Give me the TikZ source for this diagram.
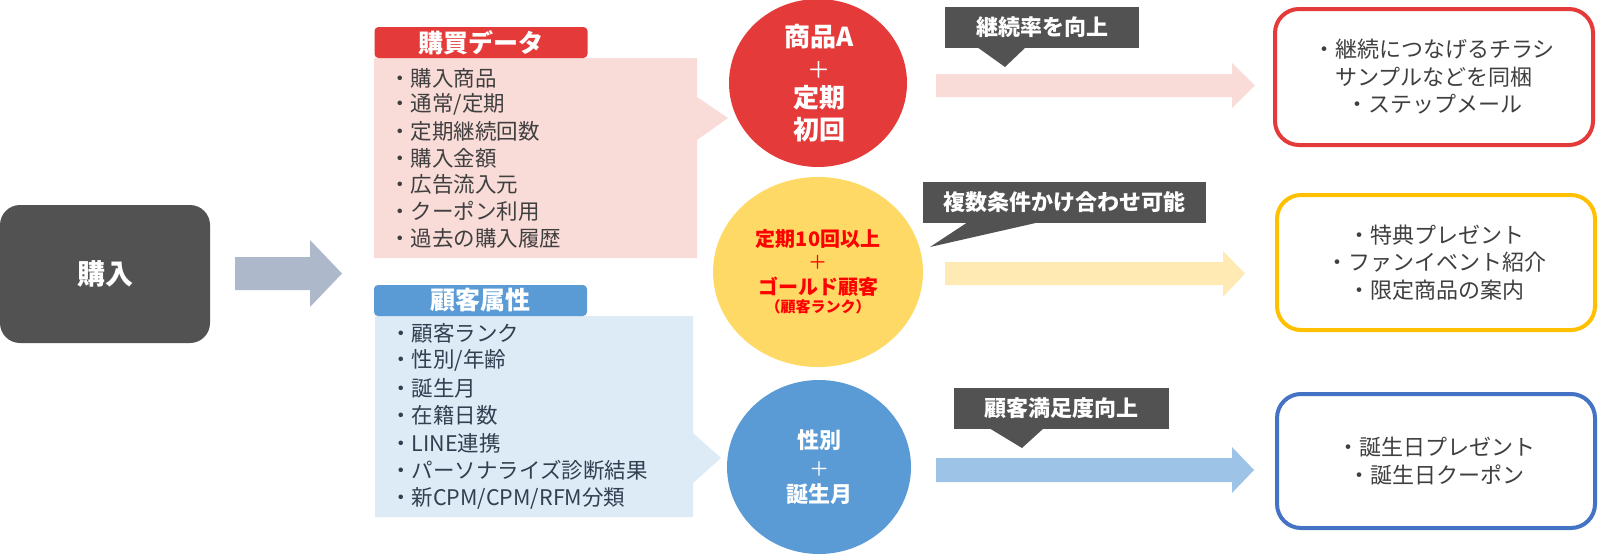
\documentclass[tikz,border=0pt]{standalone}
\usepackage{fontspec}
\setmainfont{Noto Sans CJK JP}
\usetikzlibrary{shapes.geometric}
\definecolor{dg}{HTML}{525252}
\definecolor{redc}{HTML}{E53A3A}
\definecolor{pinkc}{HTML}{F9DCD8}
\definecolor{lblue}{HTML}{DDEBF7}
\definecolor{bluec}{HTML}{5B9BD5}
\definecolor{yelc}{HTML}{FFD966}
\definecolor{yelarrow}{HTML}{FFEAB4}
\definecolor{bluearrow}{HTML}{9DC3E6}
\definecolor{grayarrow}{HTML}{ADB9CA}
\definecolor{yelborder}{HTML}{FFC000}
\definecolor{blueborder}{HTML}{4472C4}
\definecolor{txtgray}{HTML}{3F3F3F}
\definecolor{txtslate}{HTML}{333F50}
\definecolor{redtxt}{HTML}{FF0000}
\begin{document}
\begin{tikzpicture}[x=1pt,y=-1pt,
  header/.style={rounded corners=4pt, inner sep=0pt, minimum width=213pt, minimum height=31pt,
    text=white, font=\bfseries\fontsize{25}{28}\selectfont},
  listtext/.style={anchor=west, inner sep=0pt, font=\fontsize{21.5}{24}\selectfont},
  callout/.style={fill=dg, inner sep=0pt, minimum height=41pt, text=white,
    font=\bfseries\fontsize{22}{24}\selectfont},
  resultbox/.style={draw, line width=4pt, fill=white, rounded corners=24pt, minimum width=318pt,
    minimum height=136pt, inner sep=0pt, align=center, text=txtgray,
    font=\fontsize{22}{27.5}\selectfont},
  blob/.style={ellipse, inner sep=0pt},
  ctext/.style={inner sep=0pt, text=white, font=\bfseries\fontsize{26}{28}\selectfont},
  plus/.style={inner sep=0pt, font=\fontsize{23}{24}\selectfont}
]
\useasboundingbox (0,0) rectangle (1600,554);

% purchase box and arrow
\node[fill=dg, rounded corners=20pt, minimum width=210pt, minimum height=138pt, inner sep=0pt,
  text=white, font=\bfseries\fontsize{28}{30}\selectfont] (buy) at (105,274) {購入};
\fill[grayarrow] (235,257) -- (310,257) -- (310,240) -- (342,273.5) -- (310,307) -- (310,290) -- (235,290) -- cycle;

% data box 1
\fill[pinkc] (374,58) -- (697,58) -- (697,97) -- (728,118) -- (697,140) -- (697,258) -- (374,258) -- cycle;
\node[header, fill=redc] (h1) at (481,42.5) {購買データ};
\foreach \t [count=\i] in {購入商品,通常/定期,定期継続回数,購入金額,広告流入元,クーポン利用,過去の購入履歴}
  \node[listtext, text=txtgray] (da\i) at (389,{78+26.7*(\i-1)}) {・\t};

% data box 2
\fill[lblue] (375,316) -- (693,316) -- (693,433) -- (721,458) -- (693,483) -- (693,517) -- (375,517) -- cycle;
\node[header, fill=bluec] (h2) at (480.5,300.5) {顧客属性};
\foreach \t [count=\i] in {顧客ランク,性別/年齢,誕生月,在籍日数,LINE連携,パーソナライズ診断結果,新CPM/CPM/RFM分類}
  \node[listtext, text=txtslate] (db\i) at (390,{333+27.5*(\i-1)}) {・\t};

% circles
\node[blob, fill=redc, minimum width=178pt, minimum height=168pt] (cr) at (818,83) {};
\node[ctext] (cr1) at (819,37) {商品A};
\node[plus, text=white] (cr2) at (819,70) {＋};
\node[ctext] (cr3) at (819,98) {定期};
\node[ctext] (cr4) at (819,130) {初回};

\node[blob, fill=yelc, minimum width=210pt, minimum height=190pt] (cy) at (818,272) {};
\node[ctext, text=redtxt, font=\bfseries\fontsize{20}{22}\selectfont] (cy1) at (818,239) {定期10回以上};
\node[plus, text=redtxt, font=\fontsize{19}{20}\selectfont] (cy2) at (818,262) {＋};
\node[ctext, text=redtxt, font=\bfseries\fontsize{20}{22}\selectfont] (cy3) at (818,287) {ゴールド顧客};
\node[ctext, text=redtxt, font=\bfseries\fontsize{15}{17}\selectfont] (cy4) at (818,307) {（顧客ランク）};

\node[blob, fill=bluec, minimum width=184pt, minimum height=174pt] (cb) at (819,467) {};
\node[ctext, font=\bfseries\fontsize{22}{24}\selectfont] (cb1) at (819,440) {性別};
\node[plus, text=white, font=\fontsize{20}{22}\selectfont] (cb2) at (819,469) {＋};
\node[ctext, font=\bfseries\fontsize{22}{24}\selectfont] (cb3) at (819,494) {誕生月};

% callouts
\node[callout, minimum width=194pt] (k1) at (1042,27.5) {継続率を向上};
\fill[dg] (977,47) -- (1005,67) -- (1026,47) -- cycle;
\node[callout, minimum width=283pt] (k2) at (1064.5,202.5) {複数条件かけ合わせ可能};
\fill[dg] (968,222) -- (930,247) -- (1040,222) -- cycle;
\node[callout, minimum width=215pt] (k3) at (1061.5,408.5) {顧客満足度向上};
\fill[dg] (989,428) -- (1022,448) -- (1044,428) -- cycle;

% block arrows
\fill[pinkc] (936,74) -- (1232,74) -- (1232,63) -- (1255,85.5) -- (1232,108) -- (1232,97) -- (936,97) -- cycle;
\fill[yelarrow] (945,262) -- (1223,262) -- (1223,251) -- (1245,273.5) -- (1223,297) -- (1223,285) -- (945,285) -- cycle;
\fill[bluearrow] (936,458) -- (1232,458) -- (1232,447) -- (1254,470) -- (1232,493) -- (1232,482) -- (936,482) -- cycle;

% result boxes
\node[resultbox, draw=redc] (r1) at (1434,77) {・継続につなげるチラシ\\サンプルなどを同梱\\・ステップメール};
\node[resultbox, draw=yelborder, minimum height=135pt] (r2) at (1436,262.5) {・特典プレゼント\\・ファンイベント紹介\\・限定商品の案内};
\node[resultbox, draw=blueborder, minimum height=134pt] (r3) at (1436,461) {・誕生日プレゼント\\・誕生日クーポン};
\end{tikzpicture}
\end{document}
